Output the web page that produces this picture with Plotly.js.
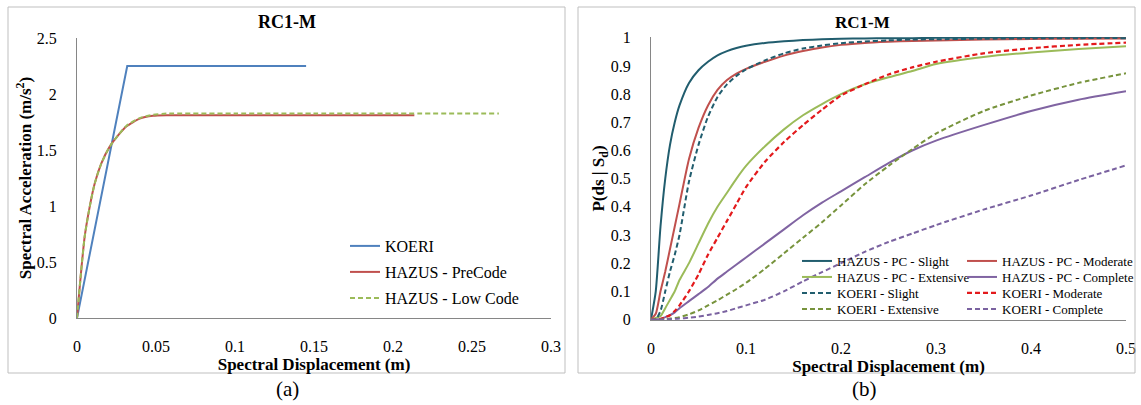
<!DOCTYPE html>
<html>
<head>
<meta charset="utf-8">
<script src="https://cdn.plot.ly/plotly-3.0.1.min.js"></script>
<style>html,body{margin:0;padding:0;background:#fff;}#chart{width:1141px;height:405px;}</style>
</head>
<body>
<div id="chart"></div>
<script>
// ---- Panel (a): capacity curves ----
const koeriCapX = [0, 0.0318, 0.145];
const koeriCapY = [0, 2.25, 2.25];
const preCodeX = [0, 0.0006, 0.0027, 0.0049, 0.008, 0.0112, 0.0154, 0.0207, 0.026, 0.0312, 0.0397, 0.0481, 0.0565, 0.1, 0.15, 0.2135];
const preCodeY = [0, 0.10, 0.43, 0.73, 0.99, 1.20, 1.38, 1.53, 1.63, 1.71, 1.78, 1.805, 1.81, 1.81, 1.81, 1.81];
const lowCodeX = [0, 0.0006, 0.0027, 0.0049, 0.008, 0.0112, 0.0154, 0.0207, 0.026, 0.0312, 0.0397, 0.0481, 0.0565, 0.1, 0.15, 0.2, 0.267];
const lowCodeY = [0, 0.10, 0.43, 0.73, 0.99, 1.20, 1.38, 1.53, 1.63, 1.715, 1.785, 1.815, 1.825, 1.825, 1.825, 1.825, 1.825];

// ---- Panel (b): fragility curves ----
const sd = [0, 0.005, 0.01, 0.015, 0.02, 0.025, 0.03, 0.04, 0.05, 0.06, 0.07, 0.08, 0.09, 0.1, 0.12, 0.14, 0.16, 0.18, 0.2, 0.225, 0.25, 0.275, 0.3, 0.35, 0.4, 0.45, 0.5];
const hazusSlight = [0, 0.1, 0.33, 0.5, 0.62, 0.7, 0.76, 0.84, 0.885, 0.915, 0.938, 0.953, 0.964, 0.972, 0.982, 0.988, 0.992, 0.995, 0.997, 0.998, 0.999, 0.999, 1, 1, 1, 1, 1];
const hazusModerate = [0, 0.02, 0.1, 0.17, 0.25, 0.33, 0.41, 0.57, 0.68, 0.76, 0.815, 0.85, 0.873, 0.89, 0.915, 0.937, 0.953, 0.966, 0.975, 0.982, 0.986, 0.989, 0.991, 0.994, 0.996, 0.997, 0.998];
const hazusExtensive = [0, 0.005, 0.012, 0.04, 0.07, 0.1, 0.14, 0.2, 0.27, 0.34, 0.4, 0.45, 0.5, 0.545, 0.615, 0.675, 0.725, 0.765, 0.8, 0.835, 0.86, 0.882, 0.907, 0.932, 0.948, 0.96, 0.97];
const hazusComplete = [0, 0, 0.002, 0.008, 0.015, 0.025, 0.04, 0.065, 0.09, 0.115, 0.145, 0.17, 0.195, 0.22, 0.27, 0.32, 0.37, 0.415, 0.455, 0.505, 0.555, 0.6, 0.635, 0.69, 0.74, 0.78, 0.81];
const koeriSlight = [0, 0, 0.03, 0.1, 0.17, 0.23, 0.3, 0.49, 0.62, 0.72, 0.79, 0.835, 0.865, 0.888, 0.92, 0.945, 0.962, 0.973, 0.981, 0.987, 0.991, 0.994, 0.995, 0.997, 0.998, 0.999, 0.999];
const koeriModerate = [0, 0, 0.002, 0.008, 0.015, 0.03, 0.05, 0.1, 0.16, 0.23, 0.29, 0.35, 0.41, 0.47, 0.56, 0.63, 0.69, 0.745, 0.795, 0.835, 0.87, 0.895, 0.915, 0.945, 0.963, 0.975, 0.983];
const koeriExtensive = [0, 0, 0, 0.001, 0.003, 0.005, 0.008, 0.018, 0.032, 0.05, 0.068, 0.088, 0.108, 0.13, 0.18, 0.235, 0.29, 0.345, 0.405, 0.48, 0.545, 0.605, 0.66, 0.74, 0.795, 0.84, 0.874];
const koeriComplete = [0, 0, 0, 0, 0.001, 0.002, 0.003, 0.006, 0.01, 0.016, 0.022, 0.03, 0.04, 0.05, 0.07, 0.1, 0.135, 0.168, 0.2, 0.24, 0.275, 0.305, 0.335, 0.39, 0.44, 0.495, 0.547];

const W = 1141, H = 405;
const FONT = 'Liberation Serif, Times New Roman, serif';
const DASH = '5px,3px';

function L(x, y, name, color, dash, width, legend, xa, ya, shape) {
  return {
    x: x, y: y, name: name, type: 'scatter', mode: 'lines',
    line: {color: color, width: width || 2, dash: dash || 'solid', shape: shape || 'spline', smoothing: 0.6},
    legend: legend, xaxis: xa, yaxis: ya, hoverinfo: 'skip'
  };
}

const traces = [
  L(koeriCapX, koeriCapY, 'KOERI', '#4f81bd', 'solid', 2, 'legend', 'x', 'y', 'linear'),
  L(preCodeX, preCodeY, 'HAZUS - PreCode', '#c0504d', 'solid', 2, 'legend2', 'x', 'y'),
  L(lowCodeX, lowCodeY, 'HAZUS - Low Code', '#9bbb59', DASH, 2, 'legend3', 'x', 'y'),

  L(sd, hazusSlight, 'HAZUS - PC - Slight', '#215d6e', 'solid', 2, 'legend4', 'x2', 'y2'),
  L(sd, hazusModerate, 'HAZUS - PC - Moderate', '#c0504d', 'solid', 2, 'legend5', 'x2', 'y2'),
  L(sd, hazusExtensive, 'HAZUS - PC - Extensive', '#9bbb59', 'solid', 2, 'legend6', 'x2', 'y2'),
  L(sd, hazusComplete, 'HAZUS - PC - Complete', '#8064a2', 'solid', 2, 'legend7', 'x2', 'y2'),
  L(sd, koeriSlight, 'KOERI - Slight', '#215d6e', DASH, 2, 'legend8', 'x2', 'y2'),
  L(sd, koeriModerate, 'KOERI - Moderate', '#e31a1c', DASH, 2.2, 'legend9', 'x2', 'y2'),
  L(sd, koeriExtensive, 'KOERI - Extensive', '#77933c', DASH, 2, 'legend10', 'x2', 'y2'),
  L(sd, koeriComplete, 'KOERI - Complete', '#7a62a0', DASH, 2, 'legend11', 'x2', 'y2')
];

function px(x) { return x / W; }
function py(y) { return 1 - y / H; }

const axisCommon = {
  showgrid: false, zeroline: false, showline: true, linecolor: '#868686', linewidth: 1,
  ticks: '', tickfont: {family: FONT, size: 16, color: '#000'}, fixedrange: true
};
const titleFont = {family: FONT, size: 17, color: '#000', weight: 'bold'};

function leg(left, top, size) {
  return {
    x: px(left), y: py(top), xanchor: 'left', yanchor: 'top',
    bgcolor: 'rgba(0,0,0,0)', font: {family: FONT, size: size, color: '#000'},
    itemclick: false, itemdoubleclick: false
  };
}

const layout = {
  width: W, height: H,
  margin: {l: 0, r: 0, t: 0, b: 0},
  paper_bgcolor: '#fff', plot_bgcolor: 'rgba(0,0,0,0)',
  font: {family: FONT, color: '#000'},
  xaxis: Object.assign({}, axisCommon, {
    domain: [px(77), px(551)], range: [0, 0.3], dtick: 0.05, anchor: 'y',
    ticklabelstandoff: 14,
    title: {text: '<b>Spectral Displacement (m)</b>', font: titleFont, standoff: 0}
  }),
  yaxis: Object.assign({}, axisCommon, {
    domain: [py(318), py(38)], range: [0, 2.5], dtick: 0.5, anchor: 'x',
    ticklabelstandoff: 16,
    title: {text: '<b>Spectral Acceleration (m/s<sup>2</sup>)</b>', font: titleFont, standoff: 0}
  }),
  xaxis2: Object.assign({}, axisCommon, {
    domain: [px(651), px(1126)], range: [0, 0.5], dtick: 0.1, anchor: 'y2',
    ticklabelstandoff: 14,
    title: {text: '<b>Spectral Displacement (m)</b>', font: titleFont, standoff: 0}
  }),
  yaxis2: Object.assign({}, axisCommon, {
    domain: [py(320), py(37)], range: [-0.002, 1.003], dtick: 0.1, anchor: 'x2',
    ticklabelstandoff: 16,
    title: {text: '<b>P(ds | S<sub>d</sub>)</b>', font: titleFont, standoff: 0}
  }),
  showlegend: true,
  legend: leg(345, 229, 16),
  legend2: leg(345, 255, 16),
  legend3: leg(345, 281, 16),
  legend4: leg(797, 246, 13),
  legend5: leg(962, 246, 13),
  legend6: leg(797, 262, 13),
  legend7: leg(962, 262, 13),
  legend8: leg(797, 278, 13),
  legend9: leg(962, 278, 13),
  legend10: leg(797, 294, 13),
  legend11: leg(962, 294, 13),
  shapes: [
    {type: 'rect', xref: 'paper', yref: 'paper', x0: px(8), x1: px(565), y0: py(373), y1: py(7), line: {color: '#bfbfbf', width: 1}},
    {type: 'rect', xref: 'paper', yref: 'paper', x0: px(578), x1: px(1135), y0: py(373), y1: py(7), line: {color: '#bfbfbf', width: 1}}
  ],
  annotations: [
    {xref: 'paper', yref: 'paper', x: px(287), y: py(22), text: '<b>RC1-M</b>', showarrow: false, font: {family: FONT, size: 18, color: '#000'}, xanchor: 'center', yanchor: 'middle'},
    {xref: 'paper', yref: 'paper', x: px(862), y: py(22), text: '<b>RC1-M</b>', showarrow: false, font: {family: FONT, size: 17, color: '#000'}, xanchor: 'center', yanchor: 'middle'},
    {xref: 'paper', yref: 'paper', x: px(287), y: py(389), text: '(a)', showarrow: false, font: {family: FONT, size: 21, color: '#000'}, xanchor: 'center', yanchor: 'middle'},
    {xref: 'paper', yref: 'paper', x: px(864), y: py(389), text: '(b)', showarrow: false, font: {family: FONT, size: 21, color: '#000'}, xanchor: 'center', yanchor: 'middle'}
  ]
};

Plotly.newPlot('chart', traces, layout, {staticPlot: true, displayModeBar: false});
</script>
</body>
</html>
